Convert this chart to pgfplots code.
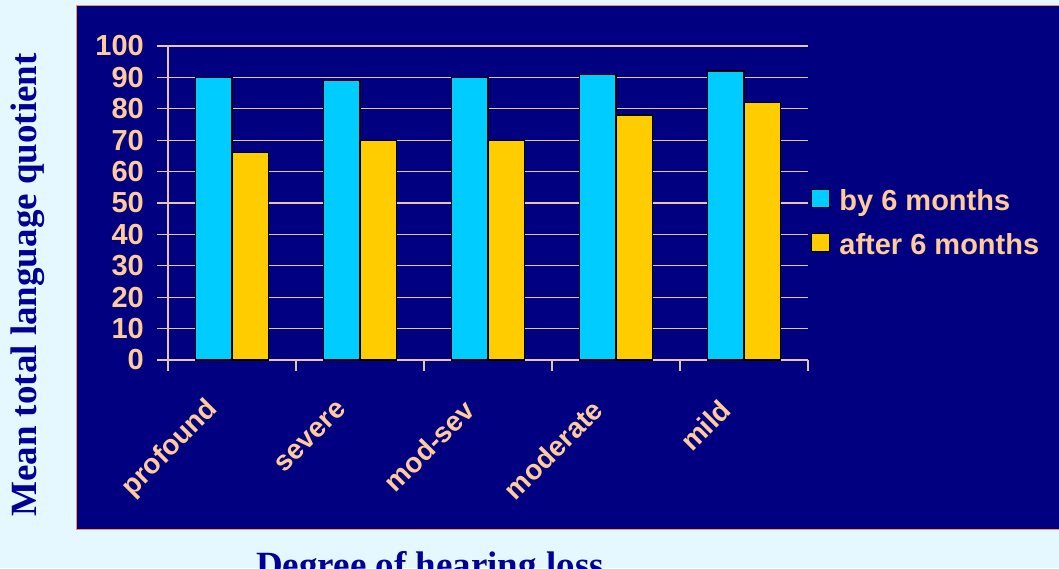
\documentclass[border=0pt]{standalone}
\usepackage{fontspec}
\setmainfont{Liberation Sans}
\newfontfamily\timesf{Liberation Serif}
\usepackage{pgfplots}
\pgfplotsset{compat=1.18}
\definecolor{navy}{RGB}{0,0,128}
\definecolor{peach}{RGB}{255,204,153}
\definecolor{cyanbar}{RGB}{0,204,255}
\definecolor{goldbar}{RGB}{255,204,0}
\definecolor{bgc}{RGB}{230,248,255}
\definecolor{gridc}{RGB}{232,196,172}
\definecolor{titlec}{RGB}{0,0,150}
\definecolor{borderc}{RGB}{235,150,100}
\begin{document}
\begin{tikzpicture}
\useasboundingbox (0pt,0pt) rectangle (1059pt,568pt);
\fill[bgc] (0pt,0pt) rectangle (1059pt,568pt);
\filldraw[fill=navy, draw=borderc, line width=1pt] (76pt,39pt) rectangle (1065pt,562pt);
\node[rotate=90, font=\timesf\bfseries\fontsize{37}{40}\selectfont, text=titlec] at (28pt,283pt) {Mean total language quotient};
\node[anchor=base, font=\timesf\bfseries\fontsize{37}{40}\selectfont, text=titlec] at (430pt,-9pt) {Degree of hearing loss};
\begin{axis}[
  at={(168pt,208pt)}, anchor=south west,
  scale only axis, width=640pt, height=314pt,
  xmin=-0.5, xmax=4.5, ymin=0, ymax=100,
  ytick={0,10,...,100},
  xtick={-0.5,0.5,...,4.5}, xticklabels={,,,,,},
  extra x ticks={0,1,2,3,4},
  extra x tick labels={profound,severe,mod-sev,moderate,mild},
  extra x tick style={major tick length=0pt},
  axis x line*=bottom, axis y line*=left,
  axis line style={draw=gridc, line width=1.2pt, -},
  tick style={draw=gridc, line width=1.2pt},
  tick align=outside, major tick length=11pt,
  ymajorgrids, grid style={draw=gridc, line width=1.2pt},
  ybar=0pt, bar width=36.5pt,
  /pgf/number format/assume math mode=true,
  yticklabel style={font=\bfseries\fontsize{29}{30}\selectfont, text=peach, anchor=east, inner sep=0pt, xshift=-13pt},
  xticklabel style={font=\bfseries\fontsize{28}{30}\selectfont, text=peach, inner sep=0pt, xshift=-18pt, yshift=-45pt, rotate=45, anchor=east},
  legend style={draw=none, fill=none, at={(1.0047,0.438)}, anchor=west, inner sep=0pt, row sep=21pt,
    font=\bfseries\fontsize{29}{30}\selectfont, text=peach, nodes={inner sep=0pt},
    /tikz/every odd column/.append style={column sep=9pt}},
  legend cell align=left,
  legend image code/.code={\draw[#1, draw=black, line width=1.2pt] (0pt,-7pt) rectangle (18pt,11pt);},
]
\addplot[fill=cyanbar, draw=black, line width=1.3pt] coordinates {(0,90) (1,89) (2,90) (3,91) (4,92)};
\addplot[fill=goldbar, draw=black, line width=1.3pt] coordinates {(0,66) (1,70) (2,70) (3,78) (4,82)};
\legend{by 6 months, after 6 months}
\end{axis}
\end{tikzpicture}
\end{document}
